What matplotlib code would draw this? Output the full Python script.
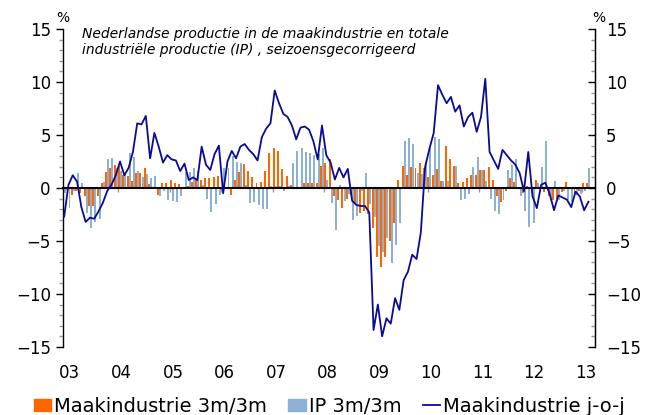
import matplotlib
matplotlib.use("Agg")
import matplotlib.pyplot as plt
from matplotlib.ticker import FixedLocator
from matplotlib.patches import Patch
from matplotlib.lines import Line2D
import numpy as np

plt.rcParams['font.family'] = ['DejaVu Sans']

# Monthly data, Jan 2003 .. Mar 2013
maak_3m3m = [
    -0.3, -0.2, -0.65, -0.3, -0.5, -0.8, -1.7, -1.7, -0.8, 0.45, 1.5, 1.85,
    2.2, 2.1, 1.2, 1.15, 0.7, 1.4, 1.4, 1.9, 0.35, 0.1, -0.65, 0.5,
    0.45, 0.8, 0.5, 0.4, 0.1, 0.2, 0.6, 0.75, 0.8, 0.9, 0.95, 1.0,
    1.1, 0.1, 0.1, -0.65, 0.8, 1.5, 2.3, 1.6, 1.05, 0.5, 0.6, 1.6,
    3.3, 3.75, 3.45, 1.8, 1.15, 0.3, 0.05, -0.1, 0.5, 0.5, 0.5, 0.45,
    2.1, 2.4, 2.7, -0.8, -1.1, -1.9, -1.0, -0.65, -1.45, -2.4, -2.2, -2.5,
    -3.8, -6.5, -7.5, -6.5, -5.0, -3.3, 0.75, 2.1, 1.2, 2.0, 1.85, 2.4,
    1.85, 1.0, 1.2, 1.75, 0.7, 4.0, 2.7, 2.1, 0.45, 0.6, 0.9, 1.2,
    1.2, 1.7, 1.7, 2.0, 0.75, -0.8, -1.3, -0.25, 0.9, 0.6, 0.05, -0.45,
    0.2, 0.05, 0.75, 0.1, -0.35, -0.8, -1.1, -1.0, -0.35, 0.6, -0.1, -0.65,
    -0.3, 0.45, 0.45,
]
ip_3m3m = [
    -0.5, -1.9, -0.3, 1.45, 0.45, -2.4, -3.8, -3.2, -2.9, 0.6, 2.7, 2.8,
    1.9, 1.6, 1.4, 3.3, 2.9, 1.6, 1.0, 1.3, 0.95, 1.1, -0.8, -0.3,
    -1.1, -1.2, -1.3, -0.8, 1.5, 1.5, 1.9, 1.6, 0.3, -1.0, -2.3, -1.5,
    -0.65, 1.85, 1.85, 3.0, 2.5, 2.4, 0.3, -1.4, -1.3, -1.6, -2.0, -2.0,
    0.2, 0.2, 0.2, -0.3, 0.2, 2.4, 3.5, 3.75, 3.4, 3.3, 3.1, 3.2,
    3.8, 0.8, -1.45, -4.0, 0.3, -1.2, -0.6, -3.0, -2.6, -0.3, 1.4, -1.5,
    -2.7, -5.5, -6.0, -4.7, -7.1, -5.4, -3.3, 4.4, 4.75, 4.15, 1.4, 1.3,
    2.3, 3.8, 4.8, 4.6, 0.7, 0.7, -0.1, 2.1, -1.1, -1.0, -0.55, 1.95,
    2.9, 1.7, 0.7, -1.0, -2.2, -2.5, -1.1, 1.7, 2.2, 2.7, -0.8, -2.2,
    -3.7, -3.3, 0.5, 2.0, 4.4, -1.1, 0.7, -1.1, -0.3, -1.1, -1.3, -0.65,
    -0.6, -0.3, 1.85,
]
maak_yoy = [
    -2.7, 0.3, 1.2, 0.6, -1.8, -3.2, -2.8, -2.9, -2.2, -1.4, -0.3, 0.3,
    1.2, 2.5, 1.2, 1.9, 3.4, 6.1, 6.0, 6.8, 2.8, 5.2, 3.9, 2.4,
    3.1, 2.7, 2.6, 1.6, 2.3, 0.75, 1.0, 0.75, 3.9, 2.2, 1.7, 3.2,
    4.0, -0.5, 2.5, 3.5, 2.8, 3.9, 4.15, 3.6, 3.2, 2.6, 4.8, 5.6,
    6.1, 9.2, 8.0, 7.0, 6.7, 5.9, 4.6, 5.7, 5.8, 5.5, 4.4, 2.7,
    5.9, 3.1, 2.4, 0.8, 1.9, 1.0, 1.8, -1.2, -1.6, -1.7, -1.7, -2.3,
    -13.4, -11.0, -14.0, -12.3, -12.8, -10.4, -11.5, -8.7, -7.9, -6.3, -6.7, -4.2,
    2.0, 3.7, 5.2, 9.7, 8.8, 8.0, 8.6, 7.2, 7.8, 5.8, 6.7, 7.1,
    5.3, 6.7, 10.3, 3.4, 2.6, 1.8, 3.6, 3.1, 2.6, 2.2, 1.4, -0.3,
    3.4, -0.8, -1.9, 0.3, 0.5, -0.6, -2.1, -0.7, -0.9, -1.1, -1.8, -0.35,
    -0.8, -2.1, -1.3,
]
year_labels = ['03', '04', '05', '06', '07', '08', '09', '10', '11', '12', '13']
y_ticks = [-15, -10, -5, 0, 5, 10, 15]
y_minor = list(range(-15, 16))
legend_labels = ['Maakindustrie 3m/3m', 'IP 3m/3m', 'Maakindustrie j-o-j']
title_lines = ['Nederlandse productie in de maakindustrie en totale',
               'industriële productie (IP) , seizoensgecorrigeerd']

c_orange = '#FF6600'
c_blue = '#8DB0D5'
c_line = '#0A0A96'

fig = plt.figure(figsize=(6.48, 4.15), dpi=100)
ax = fig.add_axes([0.0977, 0.164, 0.8203, 0.766])

months = np.arange(len(maak_yoy))
bw = 0.46
ax.bar(months - 0.24, maak_3m3m, width=bw, color=c_orange, linewidth=0, zorder=2)
ax.bar(months + 0.24, ip_3m3m, width=bw, color=c_blue, linewidth=0, zorder=2)
ax.plot(months, maak_yoy, color=c_line, linewidth=1.3, zorder=4)

ax.set_xlim(-0.2, 123.5)
ax.set_ylim(-15, 15)

ax.spines['top'].set_visible(False)
ax.spines['bottom'].set_position(('data', 0))
ax.spines['bottom'].set_linewidth(1.5)
ax.spines['bottom'].set_zorder(3)
ax.spines['left'].set_linewidth(1.0)
ax.spines['right'].set_linewidth(1.0)

# x: year boundary ticks on the zero line
ax.xaxis.set_major_locator(FixedLocator([0.56 + 12 * k for k in range(1, 11)]))
ax.tick_params(axis='x', which='major', direction='out', length=3, width=1,
               color='#999999', labelbottom=False)
# year labels at bottom
sec = ax.secondary_xaxis(0)
sec.set_xticks([1.3 + 12 * k for k in range(len(year_labels))])
sec.set_xticklabels(year_labels)
sec.tick_params(length=0, labelsize=12, pad=12)
sec.spines['bottom'].set_visible(False)

# y axes
ax.yaxis.set_major_locator(FixedLocator(y_ticks))
ax.yaxis.set_minor_locator(FixedLocator(y_minor))
ax.tick_params(axis='y', which='major', direction='out', length=5, width=1,
               labelsize=12, left=True, right=False, labelright=False, pad=4)
ax.tick_params(axis='y', which='minor', direction='out', length=3, width=1,
               color='#999999', left=True, right=False)
secy = ax.secondary_yaxis('right')
secy.yaxis.set_major_locator(FixedLocator(y_ticks))
secy.yaxis.set_minor_locator(FixedLocator(y_minor))
secy.tick_params(axis='y', which='major', direction='in', length=5, width=1,
                 labelsize=12, pad=8)
secy.tick_params(axis='y', which='minor', direction='in', length=3, width=1,
                 color='#999999')

ax.text(0.0, 1.012, '%', transform=ax.transAxes, ha='center', va='bottom', fontsize=10)
ax.text(1.008, 1.012, '%', transform=ax.transAxes, ha='center', va='bottom', fontsize=10)

ax.text(0.035, 1.005, title_lines[0] + '\n' + title_lines[1], transform=ax.transAxes,
        ha='left', va='top', fontsize=10, style='italic', linespacing=1.15)

handles = [Patch(color=c_orange), Patch(color=c_blue),
           Line2D([0], [0], color=c_line, linewidth=1.3)]
fig.legend(handles, legend_labels, loc='lower center', bbox_to_anchor=(0.508, -0.03),
           ncol=3, frameon=False, fontsize=14, handlelength=0.9, handleheight=0.6,
           handletextpad=0.15, columnspacing=1.1, borderaxespad=0.2)

fig.savefig('out.png', dpi=100)
